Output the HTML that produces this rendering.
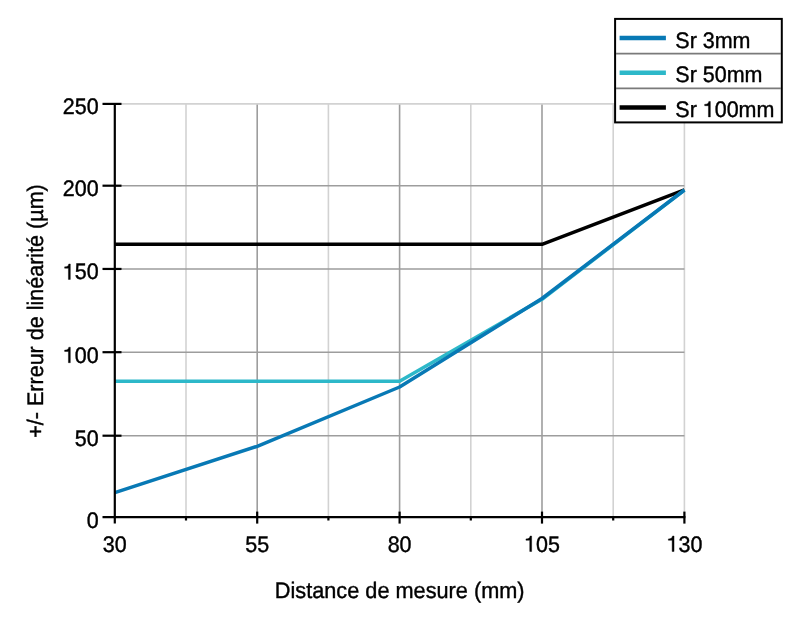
<!DOCTYPE html>
<html><head><meta charset="utf-8"><style>
html,body{margin:0;padding:0;background:#fff;width:800px;height:620px;overflow:hidden}
svg{display:block;will-change:transform}
text{font-family:"Liberation Sans",sans-serif;text-rendering:geometricPrecision;fill:#000;stroke:#000;stroke-width:0.4px}
text .h{fill:none;stroke:none}
.one{fill:#000;stroke:#000;stroke-width:0.4px;vector-effect:non-scaling-stroke}
</style></head><body>
<svg width="800" height="620" viewBox="0 0 800 620">
<line x1="186.00" y1="103.90" x2="186.00" y2="517.10" stroke="#d2d2d2" stroke-width="1.6"/>
<line x1="328.40" y1="103.90" x2="328.40" y2="517.10" stroke="#d2d2d2" stroke-width="1.6"/>
<line x1="470.80" y1="103.90" x2="470.80" y2="517.10" stroke="#d2d2d2" stroke-width="1.6"/>
<line x1="613.20" y1="103.90" x2="613.20" y2="517.10" stroke="#d2d2d2" stroke-width="1.6"/>
<line x1="684.40" y1="103.90" x2="684.40" y2="517.10" stroke="#d2d2d2" stroke-width="1.6"/>
<line x1="257.20" y1="103.90" x2="257.20" y2="517.10" stroke="#9d9d9d" stroke-width="1.6"/>
<line x1="399.60" y1="103.90" x2="399.60" y2="517.10" stroke="#9d9d9d" stroke-width="1.6"/>
<line x1="542.00" y1="103.90" x2="542.00" y2="517.10" stroke="#9d9d9d" stroke-width="1.6"/>
<line x1="114.80" y1="435.70" x2="684.40" y2="435.70" stroke="#9d9d9d" stroke-width="1.6"/>
<line x1="114.80" y1="352.20" x2="684.40" y2="352.20" stroke="#9d9d9d" stroke-width="1.6"/>
<line x1="114.80" y1="268.95" x2="684.40" y2="268.95" stroke="#9d9d9d" stroke-width="1.6"/>
<line x1="114.80" y1="185.70" x2="684.40" y2="185.70" stroke="#9d9d9d" stroke-width="1.6"/>
<line x1="114.80" y1="103.90" x2="684.40" y2="103.90" stroke="#d2d2d2" stroke-width="1.6"/>
<polyline points="114.80,244.30 542.00,244.30 684.40,189.90" fill="none" stroke="#000000" stroke-width="3.4" stroke-linejoin="round"/>
<polyline points="114.80,381.20 399.60,381.20 542.00,299.30 684.40,190.20" fill="none" stroke="#2db8c9" stroke-width="3.5" stroke-linejoin="round"/>
<polyline points="114.80,492.60 257.20,446.30 399.60,387.00 542.00,298.50 684.40,190.00" fill="none" stroke="#0879b5" stroke-width="3.5" stroke-linejoin="round"/>
<line x1="114.80" y1="103.90" x2="114.80" y2="523.60" stroke="#000" stroke-width="2.2"/>
<line x1="102.5" y1="517.10" x2="685.40" y2="517.10" stroke="#000" stroke-width="2.2"/>
<line x1="102.5" y1="435.70" x2="121.5" y2="435.70" stroke="#000" stroke-width="2.2"/>
<line x1="102.5" y1="352.20" x2="121.5" y2="352.20" stroke="#000" stroke-width="2.2"/>
<line x1="102.5" y1="268.95" x2="121.5" y2="268.95" stroke="#000" stroke-width="2.2"/>
<line x1="102.5" y1="185.70" x2="121.5" y2="185.70" stroke="#000" stroke-width="2.2"/>
<line x1="102.5" y1="103.90" x2="121.5" y2="103.90" stroke="#000" stroke-width="2.2"/>
<line x1="257.20" y1="511.60" x2="257.20" y2="523.60" stroke="#000" stroke-width="2.2"/>
<line x1="399.60" y1="511.60" x2="399.60" y2="523.60" stroke="#000" stroke-width="2.2"/>
<line x1="542.00" y1="511.60" x2="542.00" y2="523.60" stroke="#000" stroke-width="2.2"/>
<line x1="684.40" y1="511.60" x2="684.40" y2="523.60" stroke="#000" stroke-width="2.2"/>
<line x1="186.00" y1="517.10" x2="186.00" y2="520.50" stroke="#000" stroke-width="2.2"/>
<line x1="328.40" y1="517.10" x2="328.40" y2="520.50" stroke="#000" stroke-width="2.2"/>
<line x1="470.80" y1="517.10" x2="470.80" y2="520.50" stroke="#000" stroke-width="2.2"/>
<line x1="613.20" y1="517.10" x2="613.20" y2="520.50" stroke="#000" stroke-width="2.2"/>
<text transform="translate(98.60,527.60) scale(0.955,1)" text-anchor="end" font-size="22.5">0</text>
<text transform="translate(98.60,446.20) scale(0.955,1)" text-anchor="end" font-size="22.5">50</text>
<text id="t1" transform="translate(98.60,362.70) scale(0.955,1)" text-anchor="end" font-size="22.5"><tspan class="h">1</tspan>00</text><path transform="translate(98.60,362.70) scale(0.955,1) translate(-37.547,0.000) scale(0.010986,-0.010986)" d="M540 0H721V1409H578C555 1300 505 1240 440 1200C380 1165 300 1150 180 1145V1020H540Z" class="one"/>
<text id="t2" transform="translate(98.60,279.45) scale(0.955,1)" text-anchor="end" font-size="22.5"><tspan class="h">1</tspan>50</text><path transform="translate(98.60,279.45) scale(0.955,1) translate(-37.547,0.000) scale(0.010986,-0.010986)" d="M540 0H721V1409H578C555 1300 505 1240 440 1200C380 1165 300 1150 180 1145V1020H540Z" class="one"/>
<text transform="translate(98.60,196.20) scale(0.955,1)" text-anchor="end" font-size="22.5">200</text>
<text transform="translate(98.60,114.40) scale(0.955,1)" text-anchor="end" font-size="22.5">250</text>
<text transform="translate(114.80,551.50) scale(0.955,1)" text-anchor="middle" font-size="22.5">30</text>
<text transform="translate(257.20,551.50) scale(0.955,1)" text-anchor="middle" font-size="22.5">55</text>
<text transform="translate(399.60,551.50) scale(0.955,1)" text-anchor="middle" font-size="22.5">80</text>
<text id="t3" transform="translate(542.00,551.50) scale(0.955,1)" text-anchor="middle" font-size="22.5"><tspan class="h">1</tspan>05</text><path transform="translate(542.00,551.50) scale(0.955,1) translate(-18.773,0.000) scale(0.010986,-0.010986)" d="M540 0H721V1409H578C555 1300 505 1240 440 1200C380 1165 300 1150 180 1145V1020H540Z" class="one"/>
<text id="t4" transform="translate(684.40,551.50) scale(0.955,1)" text-anchor="middle" font-size="22.5"><tspan class="h">1</tspan>30</text><path transform="translate(684.40,551.50) scale(0.955,1) translate(-18.773,0.000) scale(0.010986,-0.010986)" d="M540 0H721V1409H578C555 1300 505 1240 440 1200C380 1165 300 1150 180 1145V1020H540Z" class="one"/>
<text transform="translate(399.70,597.70) scale(0.965,1)" text-anchor="middle" font-size="22.5">Distance de mesure (mm)</text>
<text transform="translate(42.90,311.00) rotate(-90) scale(0.957,1)" text-anchor="middle" font-size="22.5">+/- Erreur de linéarité (µm)</text>
<rect x="615.1" y="18.9" width="166.7" height="103.5" fill="#fff" stroke="#000" stroke-width="2"/>
<line x1="616" y1="53.6" x2="781" y2="53.6" stroke="#7a7a7a" stroke-width="1.6"/>
<line x1="616" y1="88.4" x2="781" y2="88.4" stroke="#7a7a7a" stroke-width="1.6"/>
<line x1="619.6" y1="38.10" x2="665.9" y2="38.10" stroke="#0879b5" stroke-width="4.5"/>
<text transform="translate(675.30,47.50) scale(0.955,1)" text-anchor="start" font-size="22.5">Sr 3mm</text>
<line x1="619.6" y1="72.80" x2="665.9" y2="72.80" stroke="#2db8c9" stroke-width="4.5"/>
<text transform="translate(675.30,82.20) scale(0.955,1)" text-anchor="start" font-size="22.5">Sr 50mm</text>
<line x1="619.6" y1="107.50" x2="665.9" y2="107.50" stroke="#000" stroke-width="4.5"/>
<text id="t5" transform="translate(675.30,116.90) scale(0.955,1)" text-anchor="start" font-size="22.5">Sr <tspan class="h">1</tspan>00mm</text><path transform="translate(675.30,116.90) scale(0.955,1) translate(28.766,0.000) scale(0.010986,-0.010986)" d="M540 0H721V1409H578C555 1300 505 1240 440 1200C380 1165 300 1150 180 1145V1020H540Z" class="one"/>
</svg>
</body></html>
